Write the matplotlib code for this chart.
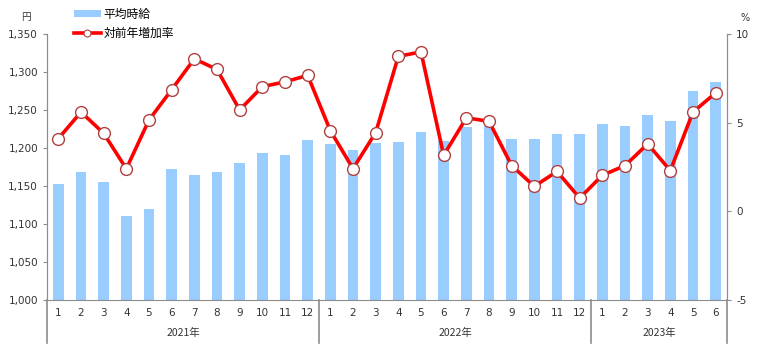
import matplotlib.pyplot as plt
import matplotlib.transforms as mtransforms
from matplotlib.lines import Line2D
from matplotlib.ticker import FuncFormatter

plt.rcParams['font.family'] = ['DejaVu Sans', 'Noto Sans CJK JP']
plt.rcParams['axes.unicode_minus'] = False

# 月ラベル
months = [str(m) for m in range(1, 13)] + [str(m) for m in range(1, 13)] + [str(m) for m in range(1, 7)]
years = ["2021年", "2022年", "2023年"]
year_counts = [12, 12, 6]

# 平均時給 (円)
wage = [1152, 1169, 1155, 1111, 1120, 1172, 1165, 1169, 1180, 1194, 1191, 1210,
        1205, 1198, 1207, 1208, 1221, 1209, 1227, 1229, 1212, 1212, 1218, 1219,
        1231, 1229, 1244, 1235, 1275, 1287]

# 対前年増加率 (%)
growth = [4.1, 5.6, 4.4, 2.4, 5.15, 6.86, 8.6, 8.0, 5.72, 7.03, 7.3, 7.67,
          4.55, 2.41, 4.44, 8.74, 8.99, 3.16, 5.27, 5.08, 2.58, 1.41, 2.25, 0.75,
          2.03, 2.58, 3.8, 2.3, 5.6, 6.68]

x = list(range(len(months)))
jp = ['Noto Sans CJK JP', 'DejaVu Sans']
gray = "#8c8c8c"

fig = plt.figure(figsize=(7.74, 3.58), dpi=100)
ax = fig.add_axes([47 / 774, 58 / 358, 680 / 774, 266 / 358])
ax2 = ax.twinx()

bars = ax.bar(x, wage, width=0.48, color="#99CCFF", zorder=1, label="平均時給")
ax.set_ylim(1000, 1350)
ax.set_yticks(range(1000, 1351, 50))
ax.yaxis.set_major_formatter(FuncFormatter(lambda v, p: f"{int(v):,}"))
ax.set_xlim(-0.5, len(months) - 0.5)
ax.set_xticks(x)
ax.set_xticklabels(months)
ax.tick_params(axis="x", length=0, pad=6, labelsize=7.5, colors="#333333")
ax.tick_params(axis="y", length=3, labelsize=7.5, colors="#333333", color=gray)

ax2.plot(x, growth, color="#FF0000", lw=2.6, marker="o", markersize=8.5,
         markerfacecolor="white", markeredgecolor="#B04040", markeredgewidth=1.0,
         zorder=3)
ax2.set_ylim(-5, 10)
ax2.set_yticks([-5, 0, 5, 10])
ax2.tick_params(axis="y", length=3, labelsize=7.5, colors="#333333", color=gray)

for a in (ax, ax2):
    a.spines["top"].set_visible(False)
    for s in ("left", "right", "bottom"):
        a.spines[s].set_color(gray)
ax2.spines["bottom"].set_visible(False)
ax.set_zorder(ax2.get_zorder() - 1)
ax2.patch.set_visible(False)

# 年の区切りとラベル
trans = mtransforms.blended_transform_factory(ax.transData, ax.transAxes)
start = -0.5
ax.plot([start, start], [0, -0.16], transform=trans, color=gray, lw=1.2, clip_on=False)
for yr, n in zip(years, year_counts):
    end = start + n
    ax.plot([end, end], [0, -0.16], transform=trans, color=gray, lw=1.2, clip_on=False)
    ax.text((start + end) / 2, -0.125, yr, transform=trans, ha="center", va="center",
            fontsize=7.5, color="#333333", family=jp)
    start = end

fig.text(26 / 774, 1 - 17 / 358, "円", ha="center", va="center", fontsize=7, color="#333333", family=jp)
fig.text(745 / 774, 1 - 18 / 358, "%", ha="center", va="center", fontsize=7, color="#333333")

# 凡例（マーカーは小さめ）
line_handle = Line2D([], [], color="#FF0000", lw=2.6, marker="o", markersize=5,
                     markerfacecolor="white", markeredgecolor="#B04040", markeredgewidth=0.8)
fig.legend([bars, line_handle], ["平均時給", "対前年増加率"], loc="upper left",
           bbox_to_anchor=(69 / 774, 1 - 3 / 358), frameon=False,
           prop={'family': jp, 'size': 8.5}, handlelength=2.3, handleheight=0.5,
           labelspacing=0.5, handletextpad=0.25, borderaxespad=0)

fig.savefig("out.png", dpi=100)
